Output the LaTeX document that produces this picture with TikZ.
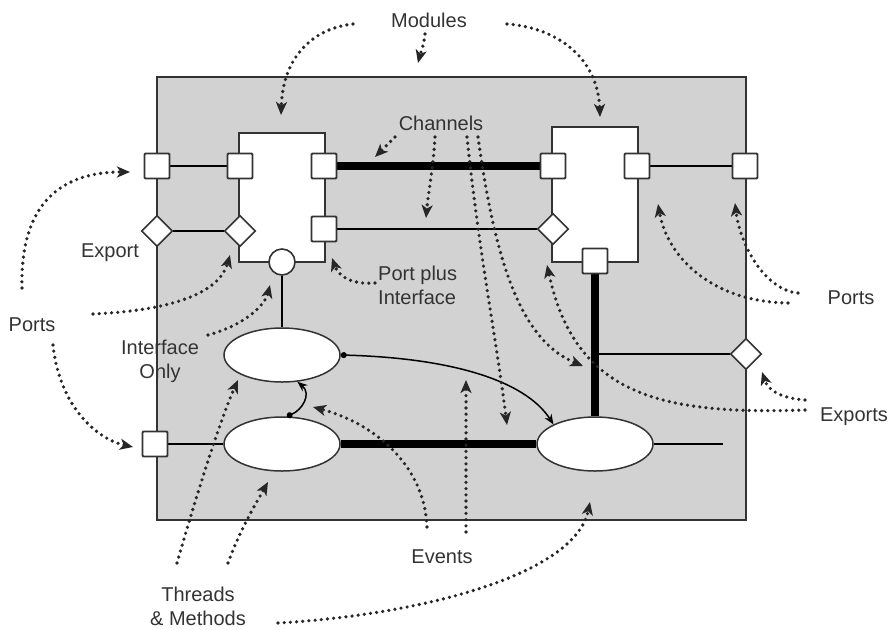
\documentclass[tikz,border=0pt]{standalone}
\usepackage{fontspec}
\setmainfont{Liberation Sans}
\usetikzlibrary{arrows.meta,shapes.geometric}
\pgfdeclarelayer{bg}
\pgfdeclarelayer{wires}
\pgfsetlayers{bg,wires,main}
\begin{document}
\begin{tikzpicture}[x=1pt,y=-1pt,
  sysbox/.style={draw=black!80, fill=gray!35, line width=2pt, inner sep=0pt, minimum width=589pt, minimum height=443pt},
  module/.style={draw=black!80, fill=white, line width=1.8pt, inner sep=0pt, minimum width=86pt},
  port/.style={draw=black!80, fill=white, line width=1.8pt, minimum size=25pt, inner sep=0pt, rounded corners=1pt},
  xport/.style={draw=black!80, fill=white, diamond, line width=1.6pt, minimum size=31pt, inner sep=0pt},
  iface/.style={draw=black!80, fill=white, circle, line width=1.6pt, minimum size=26pt, inner sep=0pt},
  proc/.style={draw=black!80, fill=white, ellipse, line width=1.5pt, minimum width=116pt, minimum height=54pt, inner sep=0pt},
  lbl/.style={font=\fontsize{20}{24}\selectfont, align=center, text=black!80, inner sep=0pt},
  note/.style={black!85, line width=3.6pt, dash pattern=on 0pt off 6.2pt, line cap=round, -{Stealth[length=13pt,width=11pt,inset=3.5pt]}},
  wire/.style={line width=1.8pt},
  fine/.style={line width=1.3pt},
  bus/.style={line width=8pt},
  event/.style={line width=1.5pt, {Circle[length=6pt]}-{Stealth[length=10pt,width=8pt]}},
]
\useasboundingbox (0,0) rectangle (896,629);

% system and modules
\begin{pgfonlayer}{bg}
\node[sysbox] (sys) at (451.5,298.5) {};
\node[module, minimum height=129pt] (m1) at (282,197.5) {};
\node[module, minimum height=135pt] (m2) at (595,194.5) {};
\end{pgfonlayer}

% ports
\node[port] (lo) at (157,166) {};
\node[port] (lml) at (240,166) {};
\node[port] (lmr) at (324,166) {};
\node[port] (lmp) at (324,229) {};
\node[port] (rml) at (553,166) {};
\node[port] (rmr) at (637,166) {};
\node[port] (ro) at (745,166) {};
\node[port] (rmb) at (595,261) {};
\node[port] (lbo) at (155,444) {};
% exports
\node[xport] (ld) at (157,231) {};
\node[xport] (lmd) at (240,231) {};
\node[xport] (rmd) at (553,229) {};
\node[xport] (rd) at (746,354) {};
% interface
\node[iface] (ci) at (282,262) {};
% processes
\node[proc] (e1) at (282,355) {};
\node[proc] (e2) at (282,444) {};
\node[proc] (e3) at (595,444) {};

\coordinate (j) at (595,354);
\coordinate (tail) at (723,444);

% wires
\begin{pgfonlayer}{wires}
\draw[wire] (lo) -- (lml);
\draw[wire] (ld) -- (lmd);
\draw[bus] (lmr) -- (rml);
\draw[fine] (lmp) -- (rmd);
\draw[wire] (rmr) -- (ro);
\draw[wire] (ci) -- (e1);
\draw[wire] (lbo) -- (e2);
\draw[bus] (e2) -- (e3);
\draw[wire] (e3) -- (tail);
\draw[bus] (rmb) -- (e3);
\draw[wire] (j) -- (rd);
\end{pgfonlayer}

\draw[event] (e1.east) .. controls (450,358) and (525,380) .. (e3.north west);
\draw[event] (e2.80) .. controls (302,410) and (312,394) .. (e1.-60);

% labels
\node[lbl] (tmod) at (429,20) {Modules};
\node[lbl] (tch) at (441,123) {Channels};
\node[lbl, anchor=west, align=left] (tpi) at (378,285) {Port plus\\Interface};
\node[lbl] (texp) at (110,253) {Export};
\node[lbl] (tpl) at (32,325) {Ports};
\node[lbl] (tio) at (160,361) {Interface\\Only};
\node[lbl] (tth) at (198,606) {Threads\\\& Methods};
\node[lbl] (tev) at (442,557) {Events};
\node[lbl] (tpr) at (851,298) {Ports};
\node[lbl] (tex) at (854,417) {Exports};

% annotation ends
\coordinate (a1s) at (353,24);   \coordinate (a1e) at (281,115);
\coordinate (a2s) at (425,34);   \coordinate (a2e) at (418,63);
\coordinate (a3s) at (507,24);   \coordinate (a3e) at (600,117);
\coordinate (c1s) at (395,137);  \coordinate (c1e) at (375,157);
\coordinate (c2s) at (435,137);  \coordinate (c2e) at (426,218);
\coordinate (c3s) at (467,137);  \coordinate (c3e) at (507,425);
\coordinate (c4s) at (478,137);  \coordinate (c4e) at (583,366);
\coordinate (p1s) at (375,283);  \coordinate (p1e) at (332,258);
\coordinate (l1s) at (22,288);   \coordinate (l1e) at (130,172);
\coordinate (l2s) at (53,345);   \coordinate (l2e) at (133,447);
\coordinate (l3s) at (93,314);   \coordinate (l3e) at (230,255);
\coordinate (i1s) at (208,335);  \coordinate (i1e) at (270,285);
\coordinate (t1s) at (177,563);  \coordinate (t1e) at (238,380);
\coordinate (t2s) at (228,563);  \coordinate (t2e) at (268,482);
\coordinate (t3s) at (278,623);  \coordinate (t3e) at (590,502);
\coordinate (v1s) at (427,527);  \coordinate (v1e) at (313,407);
\coordinate (v2s) at (466,532);  \coordinate (v2e) at (466,380);
\coordinate (r1s) at (798,293);  \coordinate (r1e) at (735,203);
\coordinate (r2s) at (788,303);  \coordinate (r2e) at (658,204);
\coordinate (x1s) at (805,400);  \coordinate (x1e) at (762,372);
\coordinate (x2s) at (805,410);  \coordinate (x2e) at (547,265);

% annotations
\draw[note] (a1s) .. controls (315,28) and (283,55) .. (a1e);
\draw[note] (a2s) .. controls (424,45) and (420,55) .. (a2e);
\draw[note] (a3s) .. controls (560,28) and (598,60) .. (a3e);
\draw[note] (c1s) -- (c1e);
\draw[note] (c2s) .. controls (433,170) and (428,195) .. (c2e);
\draw[note] (c3s) .. controls (480,260) and (495,330) .. (c3e);
\draw[note] (c4s) .. controls (495,260) and (520,340) .. (c4e);
\draw[note] (p1s) .. controls (350,285) and (338,275) .. (p1e);
\draw[note] (l1s) .. controls (20,210) and (55,172) .. (l1e);
\draw[note] (l2s) .. controls (60,410) and (100,440) .. (l2e);
\draw[note] (l3s) .. controls (180,310) and (220,290) .. (l3e);
\draw[note] (i1s) .. controls (245,325) and (265,305) .. (i1e);
\draw[note] (t1s) .. controls (195,500) and (220,420) .. (t1e);
\draw[note] (t2s) .. controls (240,530) and (255,505) .. (t2e);
\draw[note] (t3s) .. controls (420,615) and (575,575) .. (t3e);
\draw[note] (v1s) .. controls (425,470) and (380,425) .. (v1e);
\draw[note] (v2s) -- (v2e);
\draw[note] (r1s) .. controls (765,290) and (740,245) .. (r1e);
\draw[note] (r2s) .. controls (715,302) and (668,260) .. (r2e);
\draw[note] (x1s) .. controls (780,398) and (768,390) .. (x1e);
\draw[note] (x2s) .. controls (660,415) and (575,395) .. (x2e);
\end{tikzpicture}
\end{document}
